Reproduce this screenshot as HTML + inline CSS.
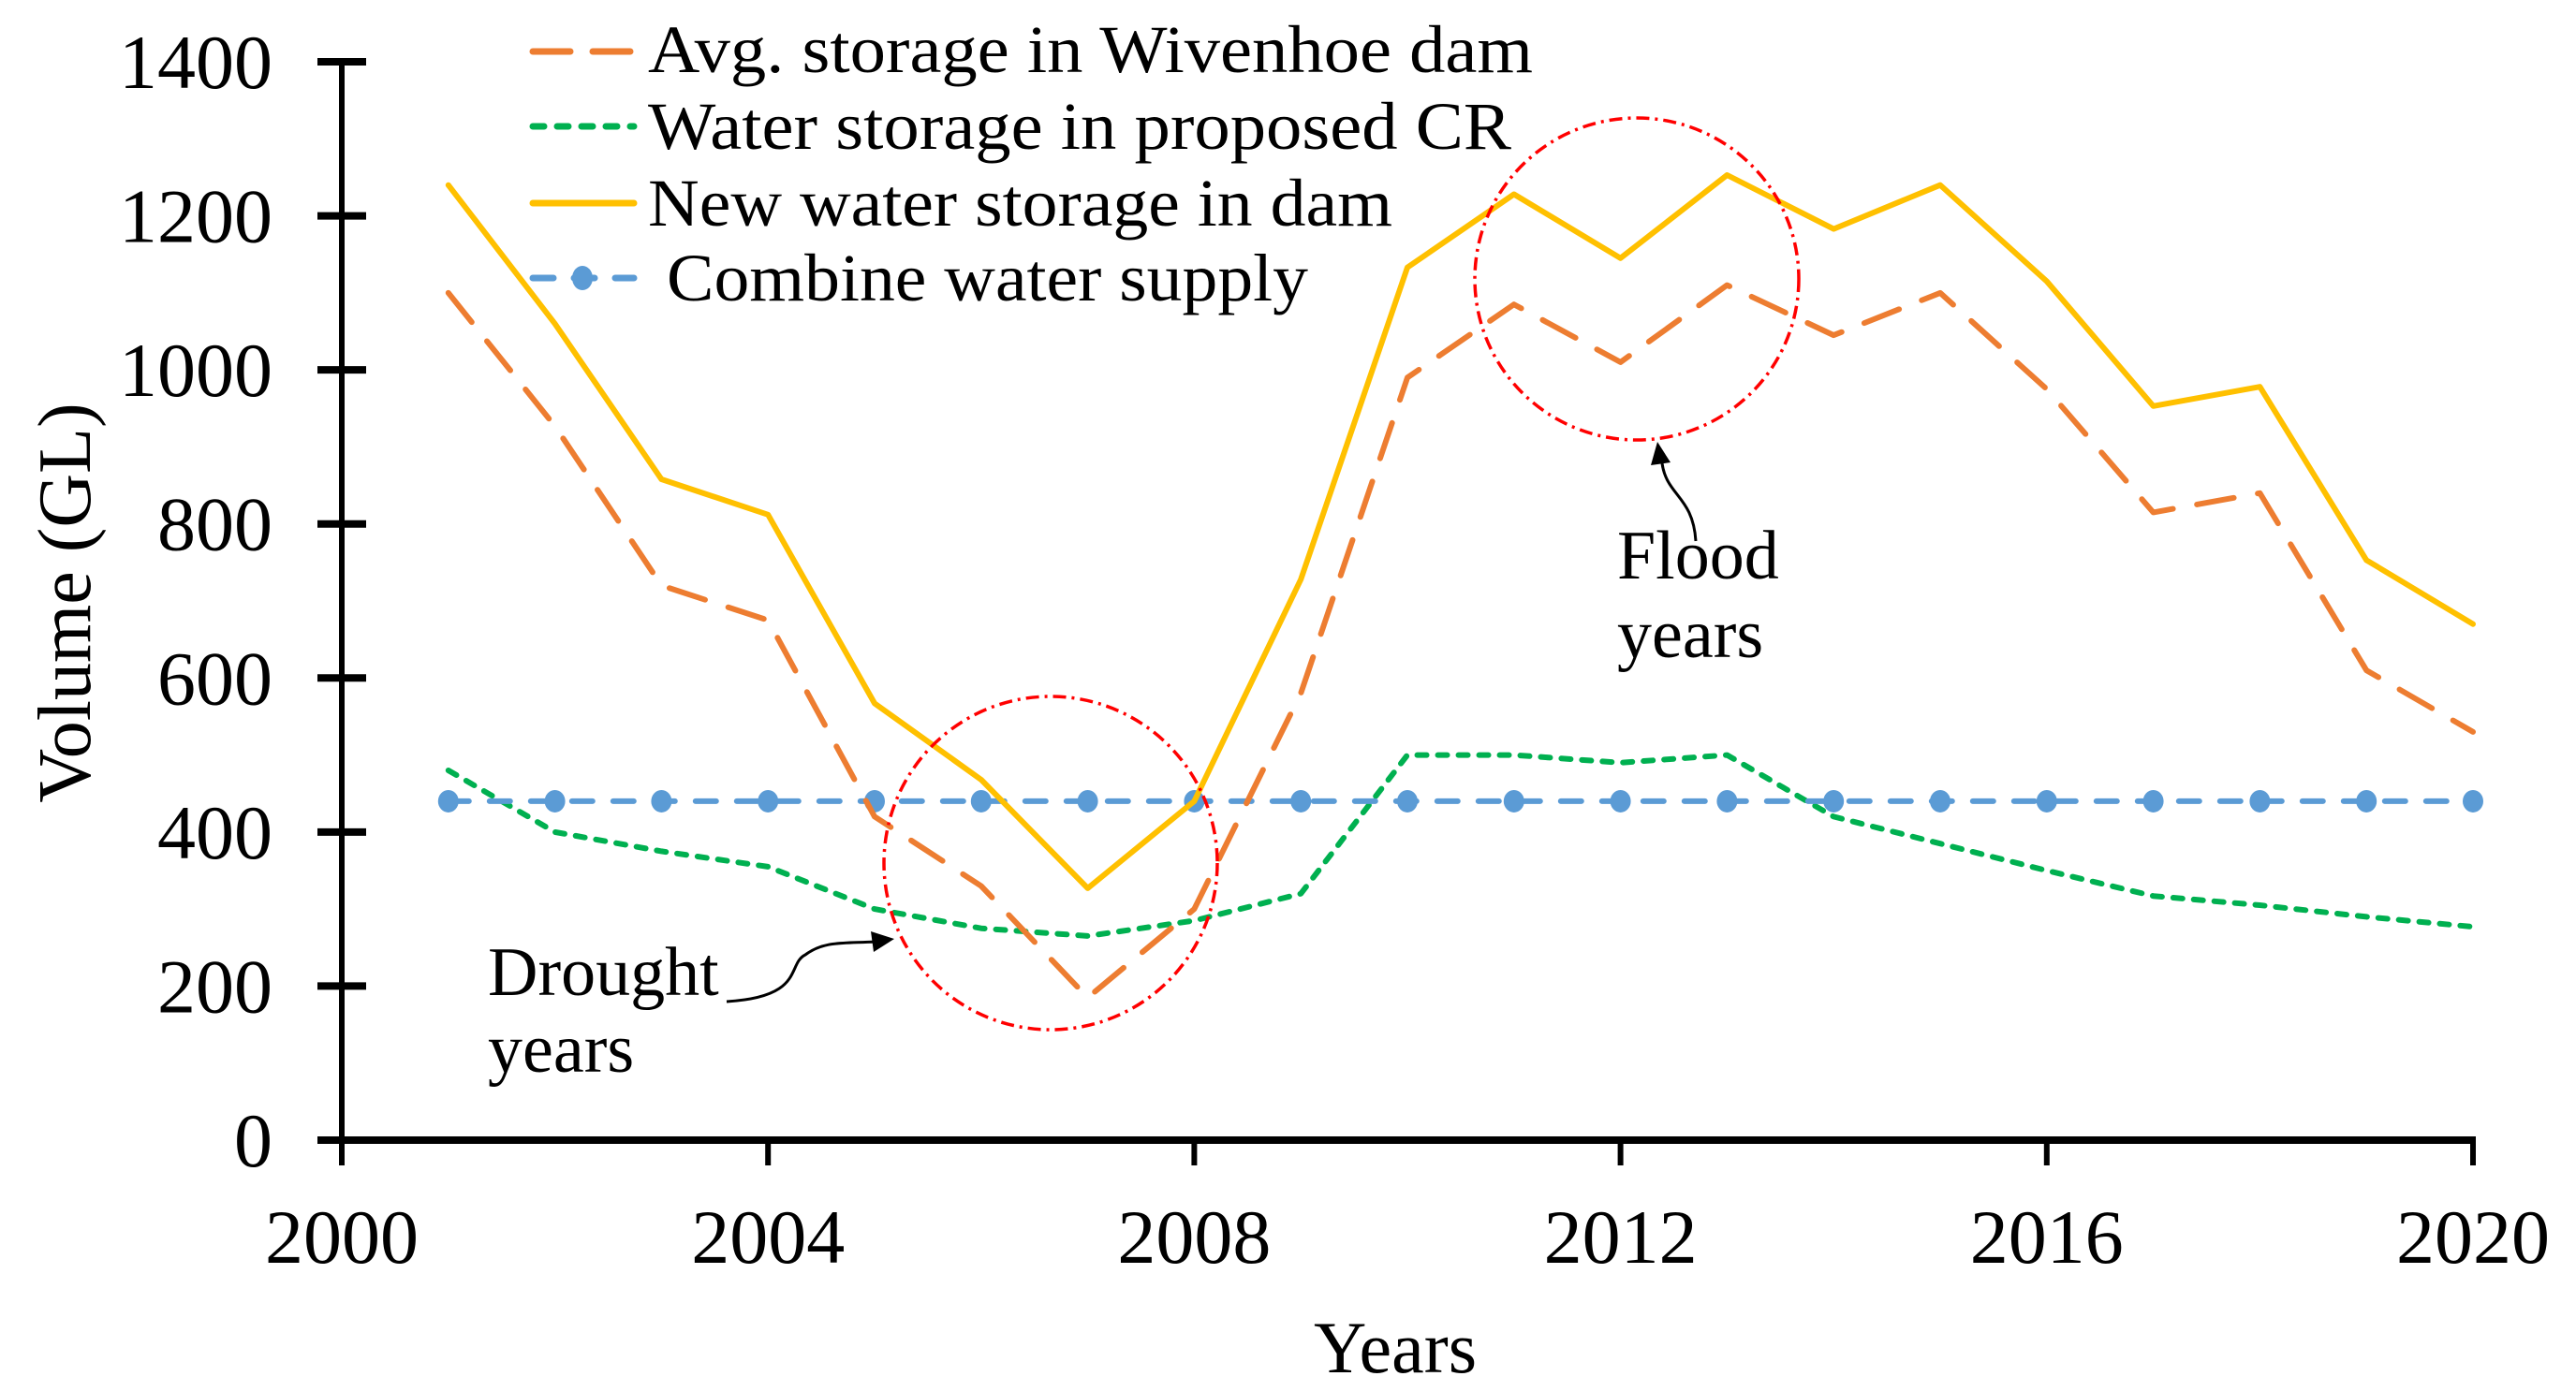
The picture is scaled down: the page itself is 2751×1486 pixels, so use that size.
<!DOCTYPE html>
<html><head><meta charset="utf-8"><style>
html,body{margin:0;padding:0;background:#fff;}
svg{display:block;font-family:"Liberation Serif",serif;}
</style></head><body>
<svg id="chart" width="2751" height="1486" viewBox="0 0 2751 1486" xmlns="http://www.w3.org/2000/svg">
<g id="marks"></g>
<g id="axes"></g>
<g id="legend">
  <line x1="569" y1="55" x2="677" y2="55" stroke="#ED7D31" stroke-width="7" stroke-dasharray="40 24" stroke-linecap="round"/>
  <text x="692" y="77" font-size="72" textLength="945" lengthAdjust="spacingAndGlyphs">Avg. storage in Wivenhoe dam</text>
  <line x1="569" y1="135" x2="677" y2="135" stroke="#00B050" stroke-width="7" stroke-dasharray="12 14" stroke-linecap="round"/>
  <text x="692" y="159" font-size="72" textLength="922" lengthAdjust="spacingAndGlyphs">Water storage in proposed CR</text>
  <line x1="569" y1="217" x2="677" y2="217" stroke="#FFC000" stroke-width="7" stroke-linecap="round"/>
  <text x="692" y="241" font-size="72" textLength="795" lengthAdjust="spacingAndGlyphs">New water storage in dam</text>
  <line x1="569" y1="297" x2="677" y2="297" stroke="#5B9BD5" stroke-width="7" stroke-dasharray="22 22" stroke-linecap="round"/>
  <ellipse cx="622" cy="297" rx="11" ry="13" fill="#5B9BD5"/>
  <text x="712" y="321" font-size="72" textLength="685" lengthAdjust="spacingAndGlyphs">Combine water supply</text>
</g>
<g id="annot">
  <ellipse cx="1122" cy="922" rx="178" ry="178" fill="none" stroke="#FF0000" stroke-width="3.5" stroke-dasharray="14 6 3 6"/>
  <ellipse cx="1748" cy="298" rx="173" ry="172" fill="none" stroke="#FF0000" stroke-width="3.5" stroke-dasharray="14 6 3 6"/>
  <text font-size="74"><tspan x="521" y="1063">Drought</tspan><tspan x="521" y="1145">years</tspan></text>
  <text font-size="74"><tspan x="1727" y="618">Flood</tspan><tspan x="1727" y="702">years</tspan></text>
  <path d="M776 1070 C 860 1065, 840 1030, 860 1020 C 880 1005, 900 1008, 935 1006" fill="none" stroke="#000" stroke-width="3"/>
  <polygon points="955,1003 930,995 933,1017" fill="#000"/>
  <path d="M1811 578 C 1808 530, 1780 530, 1775 495" fill="none" stroke="#000" stroke-width="3"/>
  <polygon points="1770,472 1763,497 1784,494" fill="#000"/>
</g>
</svg>
<script>
const years = [2001,2002,2003,2004,2005,2006,2007,2008,2009,2010,2011,2012,2013,2014,2015,2016,2017,2018,2019,2020];
const avgStorage = [1100,927,720,675,420,330,185,300,580,990,1085,1010,1110,1045,1100,975,815,840,610,530];
const crStorage = [480,400,375,355,300,275,265,285,320,500,500,490,500,420,385,350,317,305,290,277];
const newStorage = [1240,1060,858,812,567,468,327,440,728,1133,1228,1145,1253,1183,1240,1115,953,978,753,670];
const combineSupply = [440,440,440,440,440,440,440,440,440,440,440,440,440,440,440,440,440,440,440,440];
const xTicks = [2000,2004,2008,2012,2016,2020];
const yTicks = [0,200,400,600,800,1000,1200,1400];

const NS = "http://www.w3.org/2000/svg";
const X0 = 365, X1 = 2641, Y0 = 1218, Y1 = 66;
function xs(v){ return X0 + (v-2000)/20*(X1-X0); }
function ys(v){ return Y0 - v/1400*(Y0-Y1); }
function mk(tag, attrs, parent){ const e=document.createElementNS(NS,tag); for(const k in attrs) e.setAttribute(k,attrs[k]); parent.appendChild(e); return e; }
const marks=document.getElementById('marks'), axes=document.getElementById('axes');

function series(vals, color, dash, name){
  const d = vals.map((v,i)=>(i?'L':'M')+xs(years[i]).toFixed(1)+' '+ys(v).toFixed(1)).join(' ');
  const p = mk('path',{d:d,fill:'none',stroke:color,'stroke-width':6,'stroke-linejoin':'round','stroke-linecap':'round'},marks);
  if(dash) p.setAttribute('stroke-dasharray',dash);
  
  
}
series(crStorage,'#00B050','10 12','cr-storage-line');
series(combineSupply,'#5B9BD5','22 22','combine-supply-line');
combineSupply.forEach((v,i)=>{
  const c = mk('ellipse',{cx:xs(years[i]),cy:ys(v),rx:11,ry:12,fill:'#5B9BD5'},marks);
  
  
});
series(avgStorage,'#ED7D31','40 26','avg-storage-line');
series(newStorage,'#FFC000',null,'new-storage-line');

const ya = mk('line',{x1:X0,y1:Y1,x2:X0,y2:Y0,stroke:'#000','stroke-width':6},axes);


const xa = mk('line',{x1:X0-26,y1:Y0,x2:X1+3,y2:Y0,stroke:'#000','stroke-width':8},axes);


yTicks.forEach(t=>{
  mk('line',{x1:X0-26,y1:ys(t),x2:X0+26,y2:ys(t),stroke:'#000','stroke-width':8},axes);
  const tx = mk('text',{x:291,y:ys(t)+28,'text-anchor':'end','font-size':82},axes);
  tx.textContent = t;
  
  
});
xTicks.forEach(t=>{
  mk('line',{x1:xs(t),y1:Y0,x2:xs(t),y2:Y0+27,stroke:'#000','stroke-width':6},axes);
  const tx = mk('text',{x:xs(t),y:1349,'text-anchor':'middle','font-size':82},axes);
  tx.textContent = t;
  
  
});
const xt = mk('text',{x:1490,y:1466,'text-anchor':'middle','font-size':78},axes);
xt.textContent='Years';


const yt = mk('text',{x:0,y:0,'text-anchor':'middle','font-size':80,transform:'translate(96,644) rotate(-90)'},axes);
yt.textContent='Volume (GL)';


</script>
</body></html>
